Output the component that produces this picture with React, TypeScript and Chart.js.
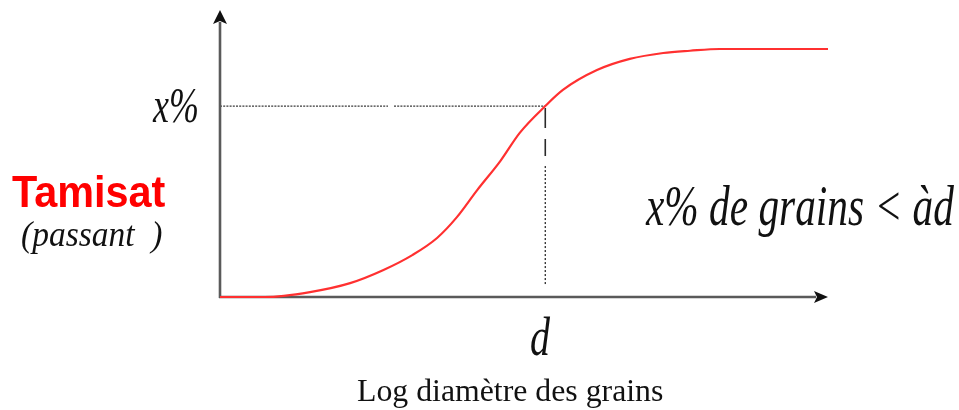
import React, { useEffect, useRef } from "react";
import { Chart, registerables } from "chart.js";

Chart.register(...registerables);

// Log diameter (arbitrary units, axis 0..10) and cumulative passing (%)
const LOG_DIAMETER = [0, 0.74, 1.48, 2.14, 2.68, 3.17, 3.57, 3.9, 4.23, 4.61, 4.93, 5.35, 5.64, 6.2, 6.74, 7.29, 7.73, 8.22, 10];
const PASSING = [0, 0, 2.0, 5.6, 10.8, 17.0, 23.8, 32.3, 43.1, 54.8, 66.2, 77.0, 83.5, 91.5, 96.0, 98.4, 99.3, 100, 100];
const D_VALUE = 5.35;
const X_PERCENT = 77;
const X_RANGE = [0, 10];
const Y_RANGE = [0, 100];

const W = 959;
const H = 410;

type LabelProps = {
  text: string;
  left: number;
  baseline: number;
  size: number;
  family: string;
  italic?: boolean;
  bold?: boolean;
  color?: string;
  scaleX?: number;
};

function Label({ text, left, baseline, size, family, italic, bold, color, scaleX }: LabelProps) {
  const asc = family.includes("Sans") ? 0.8465 : 0.8375;
  return (
    <span
      style={{
        position: "absolute",
        left,
        top: baseline - asc * size,
        fontFamily: family,
        fontSize: size,
        lineHeight: 1,
        fontStyle: italic ? "italic" : "normal",
        fontWeight: bold ? 700 : 400,
        color: color || "#111",
        whiteSpace: "pre",
        transform: `scaleX(${scaleX ?? 1})`,
        transformOrigin: "0 0",
      }}
    >
      {text}
    </span>
  );
}

export default function App() {
  const ref = useRef<HTMLCanvasElement | null>(null);

  useEffect(() => {
    if (!ref.current) return;
    const axesPlugin = {
      id: "axesPlugin",
      beforeDatasetsDraw(chart: any) {
        const ctx = chart.ctx;
        const { left, right, top, bottom } = chart.chartArea;
        const xs = chart.scales.x;
        const ys = chart.scales.y;
        const dx = xs.getPixelForValue(D_VALUE);
        const py = ys.getPixelForValue(X_PERCENT);
        ctx.save();
        // guides
        ctx.strokeStyle = "#3a3a3a";
        ctx.lineWidth = 1.3;
        ctx.setLineDash([2, 1.2]);
        ctx.beginPath();
        ctx.moveTo(left, py);
        ctx.lineTo(left + 168, py);
        ctx.moveTo(left + 174, py);
        ctx.lineTo(dx, py);
        ctx.stroke();
        ctx.setLineDash([]);
        ctx.strokeStyle = "#2a2a2a";
        ctx.lineWidth = 1.6;
        ctx.beginPath();
        ctx.moveTo(dx, py + 2);
        ctx.lineTo(dx, py + 22);
        ctx.moveTo(dx, py + 33);
        ctx.lineTo(dx, py + 50);
        ctx.stroke();
        ctx.lineWidth = 1.3;
        ctx.setLineDash([2, 2]);
        ctx.beginPath();
        ctx.moveTo(dx, py + 60);
        ctx.lineTo(dx, bottom - 12);
        ctx.stroke();
        ctx.setLineDash([]);
        // axes
        ctx.strokeStyle = "#5a5a5a";
        ctx.lineWidth = 2.6;
        ctx.beginPath();
        ctx.moveTo(left, bottom + 1);
        ctx.lineTo(left, top - 27);
        ctx.moveTo(left - 1, bottom);
        ctx.lineTo(right - 12, bottom);
        ctx.stroke();
        ctx.fillStyle = "#111";
        ctx.beginPath();
        ctx.moveTo(left, top - 39);
        ctx.lineTo(left - 7, top - 25);
        ctx.lineTo(left, top - 28);
        ctx.lineTo(left + 7, top - 25);
        ctx.closePath();
        ctx.fill();
        ctx.beginPath();
        ctx.moveTo(right, bottom);
        ctx.lineTo(right - 14, bottom - 6);
        ctx.lineTo(right - 11, bottom);
        ctx.lineTo(right - 14, bottom + 6);
        ctx.closePath();
        ctx.fill();
        ctx.restore();
      },
    };

    const chart = new Chart(ref.current, {
      type: "line",
      data: {
        datasets: [
          {
            data: LOG_DIAMETER.map((x, i) => ({ x, y: PASSING[i] })),
            borderColor: "#ff3030",
            borderWidth: 2.2,
            pointRadius: 0,
            cubicInterpolationMode: "monotone",
            clip: false as any,
          },
        ],
      },
      options: {
        responsive: false,
        animation: false,
        devicePixelRatio: 1,
        layout: { padding: { left: 220, right: W - 828, top: 49, bottom: H - 297 } },
        plugins: { legend: { display: false }, tooltip: { enabled: false } },
        scales: {
          x: { type: "linear", min: X_RANGE[0], max: X_RANGE[1], display: false },
          y: { type: "linear", min: Y_RANGE[0], max: Y_RANGE[1], display: false },
        },
      },
      plugins: [axesPlugin],
    });
    return () => chart.destroy();
  }, []);

  const serif = "'Liberation Serif', 'Times New Roman', serif";
  const sans = "'Liberation Sans', Arial, sans-serif";

  return (
    <div style={{ position: "absolute", left: 0, top: 0, width: W, height: H, background: "#fff", overflow: "hidden" }}>
      <canvas ref={ref} width={W} height={H} style={{ position: "absolute", left: 0, top: 0 }} />
      <Label text="x%" left={153} baseline={122} size={50} family={serif} italic scaleX={0.72} />
      <Label text="Tamisat" left={12} baseline={207} size={45} family={sans} bold color="#ff0000" scaleX={0.92} />
      <Label text="(passant  )" left={21} baseline={246} size={36} family={serif} italic scaleX={0.93} />
      <Label text="x% de grains < àd" left={646} baseline={225} size={57} family={serif} italic scaleX={0.725} />
      <Label text="d" left={530} baseline={355} size={54} family={serif} italic scaleX={0.74} />
      <Label text="Log diamètre des grains" left={357} baseline={402} size={31.8} family={serif} />
    </div>
  );
}
